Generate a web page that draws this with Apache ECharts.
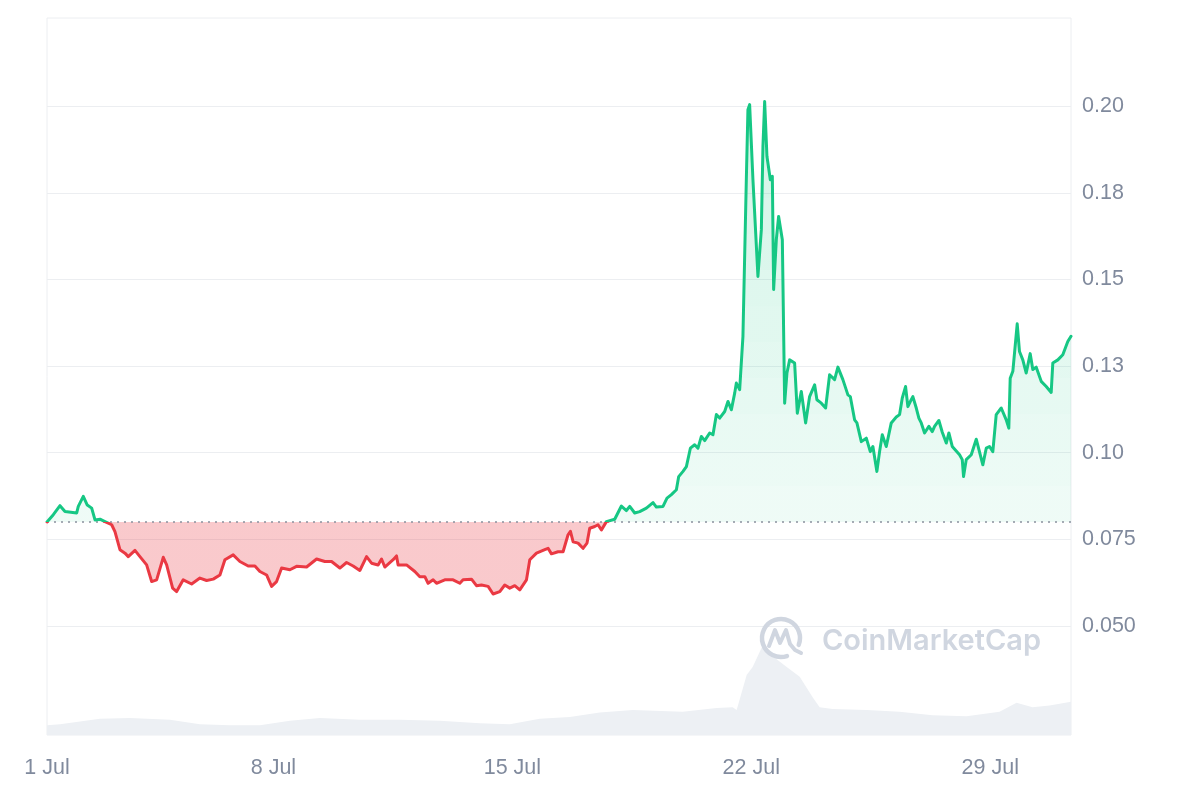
<!DOCTYPE html>
<html><head><meta charset="utf-8">
<script src="https://cdn.jsdelivr.net/npm/echarts@6/dist/echarts.min.js"></script>
<style>html,body{margin:0;padding:0;background:#fff}#c{width:1200px;height:800px}</style>
</head><body><div id="c"></div>
<script>
// time = days since 1 Jul 00:00
const priceTimes = [0.366,0.551,0.747,0.893,1.236,1.283,1.429,1.546,1.675,1.772,1.918,2.064,2.261,2.357,2.503,2.650,2.747,2.943,3.089,3.285,3.432,3.578,3.772,3.871,4.047,4.164,4.357,4.603,4.846,5.042,5.236,5.432,5.578,5.821,6.017,6.260,6.457,6.603,6.799,6.946,7.092,7.239,7.482,7.678,7.971,8.264,8.507,8.703,8.946,9.142,9.335,9.531,9.728,9.874,10.067,10.167,10.263,10.507,10.606,10.653,10.899,11.142,11.288,11.435,11.531,11.678,11.777,12.020,12.263,12.460,12.556,12.802,12.949,13.095,13.289,13.435,13.631,13.777,13.924,14.070,14.217,14.413,14.510,14.706,14.949,15.046,15.145,15.338,15.485,15.631,15.701,15.778,15.924,16.070,16.187,16.266,16.413,16.509,16.609,16.755,16.998,17.194,17.341,17.438,17.584,17.730,17.926,18.120,18.219,18.413,18.530,18.659,18.805,18.873,18.999,19.098,19.215,19.341,19.438,19.537,19.634,19.780,19.877,19.977,20.073,20.220,20.316,20.416,20.513,20.562,20.659,20.755,20.854,20.901,20.951,21.048,21.194,21.294,21.341,21.391,21.458,21.508,21.557,21.616,21.654,21.733,21.800,21.909,21.977,22.044,22.123,22.269,22.348,22.465,22.591,22.708,22.855,22.922,23.051,23.177,23.294,23.440,23.537,23.683,23.830,23.900,24.026,24.094,24.223,24.369,24.486,24.562,24.679,24.758,24.837,24.954,25.100,25.247,25.344,25.423,25.519,25.587,25.686,25.733,25.833,25.909,25.979,26.076,26.202,26.302,26.369,26.495,26.595,26.712,26.788,26.887,27.101,27.180,27.218,27.297,27.444,27.590,27.783,27.883,27.979,28.076,28.175,28.322,28.468,28.544,28.585,28.662,28.790,28.857,28.954,29.054,29.171,29.247,29.347,29.493,29.640,29.786,29.833,29.980,30.126,30.272,30.366];
const priceValues = [0.0800,0.0821,0.0847,0.0830,0.0826,0.0845,0.0874,0.0849,0.0840,0.0806,0.0808,0.0801,0.0792,0.0772,0.0720,0.0710,0.0700,0.0718,0.0700,0.0676,0.0628,0.0633,0.0698,0.0676,0.0609,0.0599,0.0633,0.0621,0.0638,0.0631,0.0635,0.0647,0.0691,0.0705,0.0686,0.0673,0.0673,0.0657,0.0647,0.0614,0.0628,0.0667,0.0662,0.0672,0.0670,0.0693,0.0686,0.0686,0.0667,0.0683,0.0673,0.0660,0.0700,0.0681,0.0676,0.0693,0.0670,0.0691,0.0702,0.0676,0.0676,0.0657,0.0642,0.0642,0.0623,0.0633,0.0623,0.0633,0.0633,0.0623,0.0633,0.0635,0.0616,0.0618,0.0614,0.0592,0.0599,0.0618,0.0609,0.0616,0.0604,0.0633,0.0691,0.0710,0.0720,0.0724,0.0708,0.0714,0.0714,0.0763,0.0773,0.0743,0.0739,0.0724,0.0739,0.0782,0.0787,0.0792,0.0777,0.0801,0.0808,0.0846,0.0833,0.0845,0.0826,0.0830,0.0840,0.0856,0.0843,0.0845,0.0869,0.0879,0.0893,0.0931,0.0946,0.0960,0.1013,0.1023,0.1013,0.1047,0.1035,0.1057,0.1052,0.1110,0.1100,0.1119,0.1148,0.1124,0.1172,0.1201,0.1182,0.1336,0.1788,0.1990,0.2005,0.1788,0.1509,0.1644,0.1884,0.2014,0.1856,0.1860,0.1788,0.1798,0.1471,0.1615,0.1682,0.1615,0.1143,0.1230,0.1268,0.1259,0.1114,0.1177,0.1086,0.1162,0.1196,0.1153,0.1143,0.1129,0.1225,0.1211,0.1247,0.1211,0.1167,0.1162,0.1095,0.1086,0.1032,0.1042,0.1003,0.1018,0.0946,0.1003,0.1052,0.1018,0.1086,0.1103,0.1110,0.1158,0.1191,0.1133,0.1153,0.1162,0.1129,0.1100,0.1086,0.1057,0.1076,0.1061,0.1076,0.1093,0.1059,0.1028,0.1057,0.1018,0.0994,0.0980,0.0931,0.0980,0.0994,0.1039,0.0965,0.1013,0.1018,0.1003,0.1110,0.1129,0.1095,0.1071,0.1215,0.1235,0.1372,0.1292,0.1268,0.1230,0.1286,0.1240,0.1247,0.1206,0.1191,0.1174,0.1259,0.1268,0.1283,0.1321,0.1336];
const volumeTimes = [0.366,0.747,1.918,2.796,3.968,4.846,5.725,6.603,7.482,8.360,9.531,10.703,11.874,13.045,13.924,14.802,15.681,16.559,17.526,18.990,19.985,20.454,20.571,20.864,21.040,21.333,21.626,22.036,22.417,22.797,23.001,23.382,24.378,25.344,26.310,27.306,28.273,28.770,29.239,29.737,30.366];
const volumeValues = [11,12,18,19,17,12,11,11,16,19,17,17,16,13,12,18,20,25,28,26,30,31,28,67,76,100,88,76,65,42,31,29,28,26,22,21,26,36,31,33,37];
const xTickValues = [0.366, 7, 14, 21, 28];
const xTickLabels = ['1 Jul', '8 Jul', '15 Jul', '22 Jul', '29 Jul'];
const yTickValues = [0.05, 0.075, 0.1, 0.125, 0.15, 0.175, 0.2];
const yTickLabels = ['0.050', '0.075', '0.10', '0.13', '0.15', '0.18', '0.20'];

const XMIN = 0.366, XMAX = 30.366, YMIN = 0.0185, YMAX = 0.2255, VMAX = 800;
const openPrice = priceValues[0];
const priceData = priceTimes.map((t, i) => [t, priceValues[i]]);
const volumeData = volumeTimes.map((t, i) => [t, volumeValues[i]]);

function pickLabel(vals, labels, v) {
  let best = 0, bd = Infinity;
  vals.forEach((x, i) => { const d = Math.abs(x - v); if (d < bd) { bd = d; best = i; } });
  return bd < 0.001 ? labels[best] : '';
}

// area fill pieces: red below the opening price, green fading towards the opening line
const areaPieces = [{ lt: openPrice, color: 'rgba(234,57,67,0.27)' }];
const steps = 14;
for (let i = 0; i < steps; i++) {
  const a = openPrice + (YMAX - openPrice) * i / steps;
  const b = openPrice + (YMAX - openPrice) * (i + 1) / steps;
  const alpha = 0.07 + 0.15 * (i / (steps - 1));
  const p = { gte: a, color: 'rgba(22,199,132,' + alpha.toFixed(3) + ')' };
  if (i < steps - 1) p.lt = b;
  areaPieces.push(p);
}

const labelFont = { color: '#808a9d', fontSize: 21.5, fontFamily: '"Liberation Sans", Arial, sans-serif' };
const wm = '#d0d6e0';
const cx = 781, cy = 638;

const chart = echarts.init(document.getElementById('c'), null, { renderer: 'canvas' });
chart.setOption({
  animation: false,
  backgroundColor: '#ffffff',
  grid: { left: 47, right: 129, top: 18, bottom: 65, show: true, borderColor: '#eceef1', borderWidth: 1 },
  xAxis: {
    type: 'value', min: XMIN, max: XMAX,
    axisLine: { show: false }, axisTick: { show: false, customValues: xTickValues }, splitLine: { show: false },
    axisLabel: Object.assign({ customValues: xTickValues, margin: 22,
      formatter: v => pickLabel(xTickValues, xTickLabels, v) }, labelFont)
  },
  yAxis: [{
    type: 'value', position: 'right', min: YMIN, max: YMAX,
    axisLine: { show: false }, axisTick: { show: false, customValues: yTickValues },
    splitLine: { show: true, lineStyle: { color: '#eceef1', width: 1 } },
    axisLabel: Object.assign({ customValues: yTickValues, margin: 11, padding: [4, 0, 0, 0],
      formatter: v => pickLabel(yTickValues, yTickLabels, v) }, labelFont)
  }, {
    type: 'value', min: 0, max: VMAX, show: false, splitLine: { show: false }
  }],
  visualMap: [{
    type: 'piecewise', show: false, dimension: 1, seriesIndex: 0,
    pieces: [
      { gte: 0, lt: openPrice, color: '#ea3943' },
      { gte: openPrice, lt: 1, color: '#16c784' }
    ],
    outOfRange: { color: '#16c784' }
  }, {
    type: 'piecewise', show: false, dimension: 1, seriesIndex: 1, pieces: areaPieces
  }],
  series: [{
    type: 'line', name: 'price', data: priceData, symbol: 'none', z: 5,
    lineStyle: { width: 3, join: 'round', cap: 'round' },
    markLine: {
      silent: true, symbol: ['none', 'none'], label: { show: false },
      lineStyle: { type: [2, 5], color: '#8a919e', width: 1.6 },
      data: [{ yAxis: openPrice }]
    }
  }, {
    type: 'line', name: 'area', data: priceData, symbol: 'none', z: 3,
    lineStyle: { width: 0, opacity: 0 },
    areaStyle: { opacity: 1, origin: openPrice }
  }, {
    type: 'line', name: 'volume', data: volumeData, yAxisIndex: 1, symbol: 'none', z: 1,
    lineStyle: { width: 0, opacity: 0 },
    areaStyle: { color: '#edf0f4', opacity: 1 }
  }],
  graphic: [
    { type: 'arc', z: 100, shape: { cx: cx, cy: cy, r: 19, startAngle: 1.25, endAngle: 6.65 },
      style: { stroke: wm, lineWidth: 4.5, fill: 'none', lineCap: 'round' } },
    { type: 'polyline', z: 100, shape: { points: [[cx - 12, cy + 8], [cx - 6, cy - 8], [cx - 1, cy + 5], [cx + 5, cy - 8], [cx + 9, cy + 6], [cx + 14, cy + 12], [cx + 20, cy + 15]] },
      style: { stroke: wm, lineWidth: 4, fill: 'none', lineJoin: 'round', lineCap: 'round' } },
    { type: 'text', z: 100, x: 822, y: 641,
      style: { text: 'CoinMarketCap', font: '600 29px Inter, "Open Sans", sans-serif', fill: wm, verticalAlign: 'middle' } }
  ]
});
</script>
</body></html>
